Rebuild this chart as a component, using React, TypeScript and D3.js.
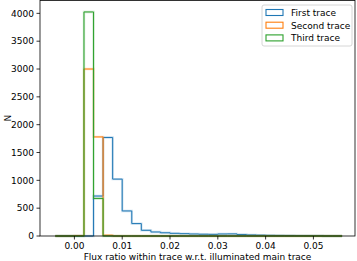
import React from "react";
import * as d3 from "d3";

const binStart = -0.004;
const binWidth = 0.002;
const firstTrace = [0, 0, 0, 0, 718, 1770, 1022, 450, 223, 102, 72, 58, 48, 42, 36, 32, 30, 36, 38, 26, 19, 15, 12, 10, 8, 6, 5, 4, 0, 0];
const secondTrace = [0, 0, 6, 3000, 1780, 14, 0, 0, 0, 0, 0, 0, 0, 0, 0, 0, 0, 0, 0, 0, 0, 0, 0, 0, 0, 0, 0, 0, 0, 0];
const thirdTrace = [0, 0, 0, 4025, 675, 0, 0, 0, 0, 0, 0, 0, 0, 0, 0, 0, 0, 0, 0, 0, 0, 0, 0, 0, 0, 0, 0, 0, 0, 0];
const seriesNames = ["First trace", "Second trace", "Third trace"];
const seriesColors = ["#1f77b4", "#ff7f0e", "#2ca02c"];
const xTicks = [0, 0.01, 0.02, 0.03, 0.04, 0.05];
const yTicks = [0, 500, 1000, 1500, 2000, 2500, 3000, 3500, 4000];

const W = 357, H = 261;
const L = 40, R = 355, T = 0.5, B = 236;
const font = "DejaVu Sans, sans-serif";

export default function App() {
  const x = d3.scaleLinear().domain([-0.0072, 0.0587]).range([L, R]);
  const y = d3.scaleLinear().domain([0, 4231]).range([B, T]);
  const series = [firstTrace, secondTrace, thirdTrace];

  const stepPath = (vals: number[]) => {
    const pts: [number, number][] = [];
    pts.push([x(binStart), y(0)]);
    vals.forEach((v, i) => {
      const x0 = binStart + i * binWidth;
      pts.push([x(x0), y(v)]);
      pts.push([x(x0 + binWidth), y(v)]);
    });
    pts.push([x(binStart + vals.length * binWidth), y(0)]);
    return d3.line()(pts) as string;
  };

  return (
    <svg width={W} height={H} style={{ position: "absolute", left: 0, top: 0, background: "#fff" }} fontFamily={font}>
      <rect x={0} y={0} width={W} height={H} fill="#fff" />
      {series.map((vals, i) => (
        <g key={i}>
          <path d={stepPath(vals)} fill="none" stroke={seriesColors[i]} strokeOpacity={0.22} strokeWidth={2.4} />
          <path d={stepPath(vals)} fill="none" stroke={seriesColors[i]} strokeWidth={1} />
        </g>
      ))}
      <rect x={L} y={T} width={R - L} height={B - T} fill="none" stroke="#000" strokeWidth={0.8} />
      {xTicks.map((t) => (
        <g key={t}>
          <line x1={x(t)} x2={x(t)} y1={B} y2={B + 3.5} stroke="#000" strokeWidth={0.8} />
          <text x={x(t)} y={249} fontSize={9} textAnchor="middle" fill="#000">{t.toFixed(2)}</text>
        </g>
      ))}
      {yTicks.map((t) => (
        <g key={t}>
          <line x1={L - 3.5} x2={L} y1={y(t)} y2={y(t)} stroke="#000" strokeWidth={0.8} />
          <text x={L - 6} y={y(t) + 3.3} fontSize={9} textAnchor="end" fill="#000">{t}</text>
        </g>
      ))}
      <text x={(L + R) / 2} y={260} fontSize={9} textAnchor="middle" fill="#000">Flux ratio within trace w.r.t. illuminated main trace</text>
      <text transform={`translate(11,${(T + B) / 2}) rotate(-90)`} fontSize={9} textAnchor="middle" fill="#000">N</text>
      <g>
        <rect x={262} y={5} width={90} height={41} rx={2} fill="#fff" fillOpacity={0.8} stroke="#cccccc" strokeWidth={0.8} />
        {seriesNames.map((n, i) => (
          <g key={n}>
            <rect x={266} y={9.5 + i * 12.7} width={17} height={6} fill="none" stroke={seriesColors[i]} strokeWidth={1.1} />
            <text x={291} y={15.8 + i * 12.7} fontSize={9} fill="#000">{n}</text>
          </g>
        ))}
      </g>
    </svg>
  );
}
